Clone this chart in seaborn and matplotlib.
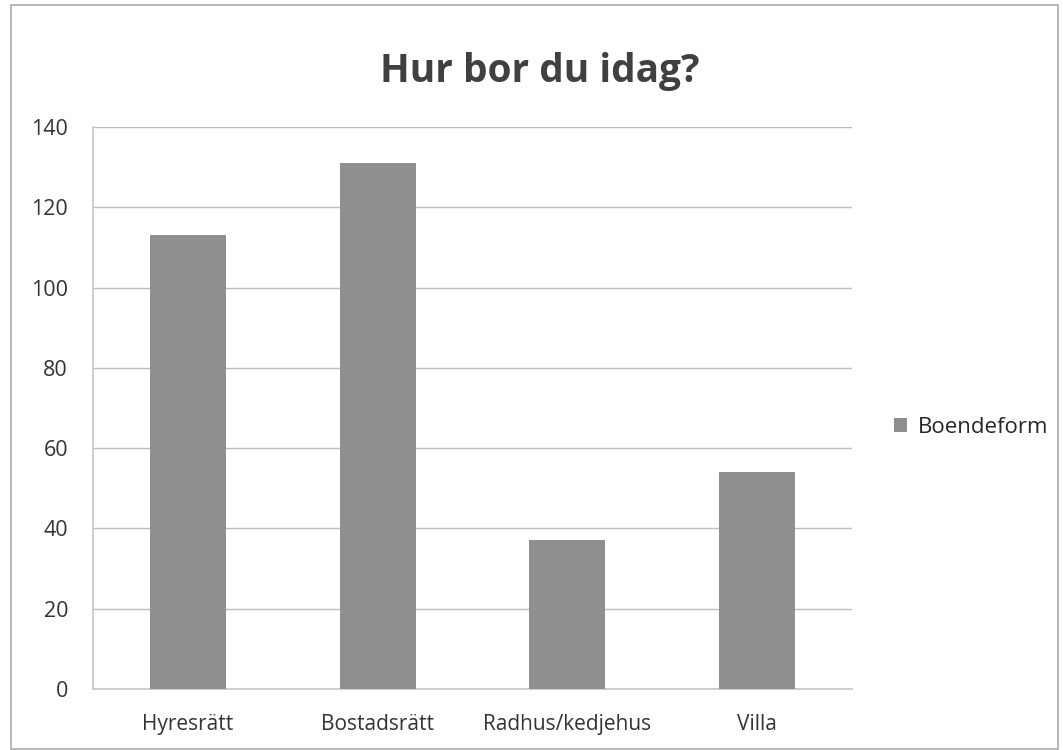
import matplotlib
matplotlib.use("Agg")
import matplotlib.pyplot as plt
import seaborn as sns
import pandas as pd
from matplotlib.patches import Patch, Rectangle

categories = ["Hyresrätt", "Bostadsrätt", "Radhus/kedjehus", "Villa"]
values = [113, 131, 37, 54]
series_name = "Boendeform"
title = "Hur bor du idag?"
yticks = [0, 20, 40, 60, 80, 100, 120, 140]

sns.set_theme(style="white")
plt.rcParams['font.family'] = ['Open Sans', 'DejaVu Sans']

df = pd.DataFrame({"cat": categories, "val": values})

fig = plt.figure(figsize=(10.63, 7.5), dpi=100)
ax = fig.add_axes([0.0875, 0.0813, 0.714, 0.7494])
bar_color = "#8f8f8f"
sns.barplot(data=df, x="cat", y="val", color=bar_color, width=0.4, ax=ax,
            saturation=1, edgecolor=bar_color, linewidth=0, zorder=3)
ax.set_ylim(0, 140)
ax.set_xlim(-0.5, len(categories) - 0.5)
ax.set_yticks(yticks)
ax.set_yticklabels([str(t) for t in yticks], fontsize=15.5, color="#333333")
ax.tick_params(axis="x", labelsize=15, colors="#333333", length=0, pad=18)
ax.tick_params(axis="y", length=0, pad=18)
ax.set_xlabel("")
ax.set_ylabel("")
ax.yaxis.grid(True, color="#bdbdbd", linewidth=1, zorder=0)
for s in ["top", "right"]:
    ax.spines[s].set_visible(False)
ax.spines["left"].set_color("#c8c8c8")
ax.spines["bottom"].set_color("#c8c8c8")

fig.text(0.508, 0.905, title, ha="center", va="center", fontsize=28,
         fontweight="bold", color="#404040")

handles = [Patch(facecolor=bar_color, edgecolor="none", label=series_name)]
fig.legend(handles=handles, loc="center left", bbox_to_anchor=(0.822, 0.43),
           frameon=False, fontsize=16, handlelength=0.6, handleheight=0.6,
           handletextpad=0.5)

fig.patches.append(Rectangle((0.01, 0.002), 0.985, 0.992, transform=fig.transFigure,
                             fill=False, edgecolor="#aaaaaa", linewidth=1.2))

fig.savefig("out.png", dpi=100)
